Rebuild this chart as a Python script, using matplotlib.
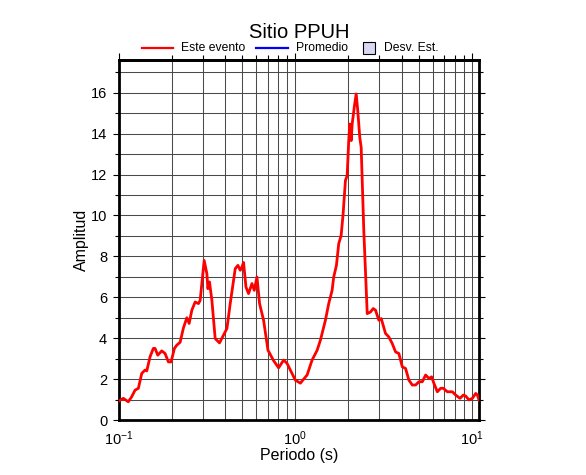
#!/usr/bin/env python
import matplotlib
matplotlib.use('Agg')
import matplotlib.pyplot as plt
from matplotlib.lines import Line2D
from matplotlib.patches import Rectangle
from matplotlib.ticker import LogLocator, MultipleLocator, NullFormatter

plt.rcParams['font.family'] = ['Liberation Sans', 'DejaVu Sans']
plt.rcParams['mathtext.fontset'] = 'custom'
plt.rcParams['mathtext.rm'] = 'Liberation Sans'
plt.rcParams['mathtext.it'] = 'Liberation Sans'
plt.rcParams['mathtext.bf'] = 'Liberation Sans'

# spectral ratio (period in s, amplitude)
periodo = [0.100, 0.1058, 0.1129, 0.1181, 0.1233, 0.1288, 0.1346, 0.1405, 0.1437, 0.1500,
           0.1566, 0.1601, 0.1659, 0.1748, 0.1825, 0.1906, 0.1974, 0.2062, 0.2127, 0.2221,
           0.2319, 0.2425, 0.2499, 0.2589, 0.2703, 0.2822, 0.2885, 0.3041, 0.3150, 0.3192,
           0.3259, 0.3363, 0.3511, 0.3714, 0.3914, 0.4092, 0.4272, 0.4562, 0.4725, 0.4870,
           0.4980, 0.5085, 0.5247, 0.5428, 0.5675, 0.5848, 0.6058, 0.6268, 0.6604, 0.6995,
           0.7211, 0.7529, 0.8037, 0.8580, 0.8971, 0.9367, 1.000, 1.068, 1.115, 1.166,
           1.244, 1.329, 1.387, 1.481, 1.546, 1.616, 1.650, 1.710, 1.762, 1.818,
           1.866, 1.923, 1.967, 2.008, 2.035, 2.073, 2.100, 2.164, 2.213, 2.259,
           2.319, 2.362, 2.444, 2.556, 2.668, 2.764, 2.848, 2.974, 3.069, 3.246,
           3.389, 3.543, 3.700, 3.864, 4.040, 4.217, 4.404, 4.604, 4.807, 5.019,
           5.248, 5.479, 5.721, 5.926, 6.107, 6.385, 6.667, 6.906, 7.277, 7.768,
           8.111, 8.582, 8.971, 9.246, 9.654, 10.09, 10.54, 10.77, 11.0]
amplitud = [0.93, 1.06, 0.89, 1.14, 1.46, 1.55, 2.28, 2.44, 2.40, 3.09,
            3.50, 3.50, 3.17, 3.38, 3.25, 2.84, 2.84, 3.50, 3.66, 3.80,
            4.50, 5.00, 4.72, 5.37, 5.77, 5.69, 5.85, 7.80, 7.15, 6.42,
            6.75, 5.85, 3.98, 3.77, 4.15, 4.47, 5.69, 7.40, 7.56, 7.32,
            7.48, 7.70, 6.50, 6.18, 6.67, 6.34, 6.99, 5.69, 4.88, 3.41,
            3.20, 2.90, 2.55, 2.93, 2.77, 2.44, 1.95, 1.80, 2.00, 2.20,
            2.93, 3.41, 3.90, 4.88, 5.69, 6.34, 6.99, 7.56, 8.62, 9.02,
            10.08, 11.71, 11.95, 13.66, 14.47, 13.66, 14.47, 15.37, 15.94, 15.12,
            13.82, 13.33, 9.27, 5.20, 5.28, 5.45, 5.37, 4.88, 4.96, 4.23,
            4.06, 3.74, 3.33, 3.25, 2.60, 2.52, 1.95, 1.71, 1.71, 1.87,
            1.87, 2.20, 2.03, 2.11, 1.79, 1.38, 1.55, 1.55, 1.38, 1.38,
            1.22, 1.06, 1.22, 1.17, 0.98, 1.06, 1.30, 1.22, 0.98]

titulo = 'Sitio PPUH'
etiquetas = ['Este evento', 'Promedio', 'Desv. Est.']

W, H = 586, 475
fig = plt.figure(figsize=(W / 100, H / 100), dpi=100)
ax = fig.add_axes([119 / W, 55 / H, 360 / W, 360 / H])

ax.plot(periodo, amplitud, color='red', lw=2.0, zorder=3)

ax.set_xscale('log')
ax.set_xlim(0.1, 11)
ax.set_ylim(0, 1.1 * 16)

ax.xaxis.set_major_locator(LogLocator(base=10))
ax.xaxis.set_minor_locator(LogLocator(base=10, subs=range(2, 10)))
ax.xaxis.set_minor_formatter(NullFormatter())
ax.yaxis.set_major_locator(MultipleLocator(2))
ax.yaxis.set_minor_locator(MultipleLocator(1))

ax.grid(True, which='both', color='#4a4a4a', lw=0.75, zorder=1)

for s in ax.spines.values():
   s.set_linewidth(2.0)

# bottom: labels only; left/right: outward ticks
ax.tick_params(axis='x', which='both', length=0, pad=7, labelsize=10.5)
ax.tick_params(axis='y', which='both', direction='out', left=True, right=True,
               width=0.8, labelsize=10.5, pad=4)
ax.tick_params(axis='y', which='major', length=4.5)
ax.tick_params(axis='y', which='minor', length=3)

top = ax.secondary_xaxis('top')
top.xaxis.set_major_locator(LogLocator(base=10))
top.xaxis.set_minor_locator(LogLocator(base=10, subs=range(2, 10)))
top.tick_params(which='both', direction='out', labeltop=False, width=0.8)
top.tick_params(which='major', length=5)
top.tick_params(which='minor', length=3.5)
top.spines['top'].set_linewidth(2.0)

ax.set_xlabel('Periodo (s)', fontsize=11.5, labelpad=0)
ax.set_ylabel('Amplitud', fontsize=11.5, labelpad=1.5)

# title and legend row above the frame, laid out in figure pixels
def fx(px):
   return px / W

def fy(py):
   return (H - py) / H

fig.text(fx(299), fy(38.5), titulo, fontsize=14.5, ha='center', va='baseline')

ly = 48
fig.add_artist(Line2D([fx(142), fx(173)], [fy(ly), fy(ly)], color='red', lw=1.6))
fig.text(fx(181), fy(ly), etiquetas[0], fontsize=8.7, va='center', ha='left')
fig.add_artist(Line2D([fx(256), fx(288)], [fy(ly), fy(ly)], color='blue', lw=1.6))
fig.text(fx(296), fy(ly), etiquetas[1], fontsize=8.7, va='center', ha='left')
fig.add_artist(Rectangle((fx(363), fy(ly + 6)), fx(12), 12 / H, transform=fig.transFigure,
                         facecolor='#d8d8f5', edgecolor='black', lw=0.8))
fig.text(fx(384), fy(ly), etiquetas[2], fontsize=8.7, va='center', ha='left')

plt.savefig('out.png', dpi=100)
